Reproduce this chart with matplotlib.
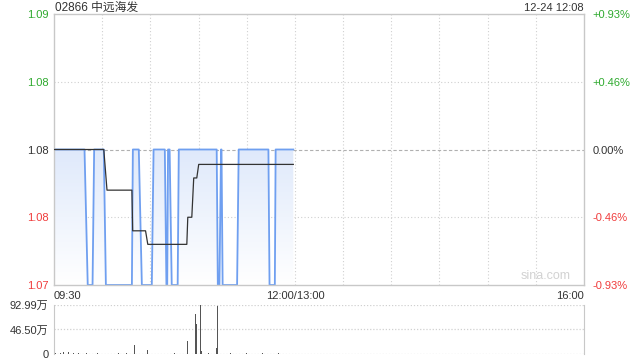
"""Intraday minute chart for 02866 (price + volume), sina style."""

import matplotlib

matplotlib.use("Agg")
import matplotlib.pyplot as plt  # noqa: E402
import numpy as np  # noqa: E402

plt.rcParams["font.family"] = ["Liberation Sans", "Noto Sans CJK SC", "DejaVu Sans"]

TITLE = "02866 中远海发"
STAMP = "12-24 12:08"
PREV_CLOSE = 1.08

# trading minutes since 09:30 (lunch break skipped: 150 = 12:00/13:00, 330 = 16:00)
price_t = [0, 19, 21, 24, 25, 31, 32.3, 48.5, 49.1, 52.8, 54.7, 60.9, 62, 69, 70, 70.5,
           71, 72, 73.3, 77, 77.7, 101.3, 102, 103, 104, 104.3, 105, 114, 115, 133.5,
           134.2, 137.5, 138, 149]
price_v = [1.08, 1.08, 1.07, 1.07, 1.08, 1.08, 1.07, 1.07, 1.08, 1.08, 1.07, 1.07, 1.08,
           1.08, 1.07, 1.07, 1.08, 1.08, 1.07, 1.07, 1.08, 1.08, 1.07, 1.07, 1.08, 1.08,
           1.07, 1.07, 1.08, 1.08, 1.07, 1.07, 1.08, 1.08]

avg_t = [0, 31, 33, 48.5, 49, 57, 58.4, 82.7, 83.3, 85.8, 87, 88.9, 90.1, 149]
avg_v = [1.08, 1.08, 1.077, 1.077, 1.074, 1.074, 1.073, 1.073, 1.075, 1.075, 1.0779,
         1.0779, 1.0789, 1.0789]

# volume in 万 shares
vol_t = [1, 4, 6, 9, 12, 15, 20, 27, 33, 40, 45, 50, 58, 66, 75, 83, 88, 89, 91, 92,
         96, 101, 102, 110, 120, 130, 140]
vol_v = [1.5, 1.0, 3.5, 3.0, 1.0, 1.2, 1.0, 1.0, 2.5, 1.0, 1.2, 17.0, 7.6, 1.0, 1.2,
         24.7, 76.0, 57.0, 92.99, 5.0, 1.0, 11.0, 92.0, 1.0, 1.0, 1.0, 1.0]

y_ticks = [1.07, 1.075, 1.08, 1.085, 1.09]
y_labels = ["1.07", "1.08", "1.08", "1.08", "1.09"]
pct_labels = ["-0.93%", "-0.46%", "0.00%", "+0.46%", "+0.93%"]
tick_colors = ["#f03c3c", "#f03c3c", "#333333", "#2eaa2e", "#2eaa2e"]

vol_ticks = [0, 46.50, 92.99]
vol_labels = ["0", "46.50万", "92.99万"]

GRID = "#d0d0d0"
BORDER = "#c8c8c8"


def main() -> None:
    fig = plt.figure(figsize=(6.4, 3.6), dpi=100)
    ax = fig.add_axes([54 / 640, 75 / 360, 530 / 640, 271 / 360])
    axv = fig.add_axes([54 / 640, 6 / 360, 530 / 640, 49 / 360])

    # price panel
    ax.set_xlim(0, 330)
    ax.set_ylim(1.07, 1.09)
    for s in ax.spines.values():
        s.set_color(BORDER)
        s.set_linewidth(1)
    for m in range(30, 330, 30):
        ax.axvline(m, color=GRID, lw=0.8, ls=(0, (1, 2)), zorder=0)
    for y in (1.075, 1.085):
        ax.axhline(y, color=GRID, lw=0.8, ls=(0, (1, 2)), zorder=0)
    ax.axhline(PREV_CLOSE, color="#b0b0b0", lw=0.8, ls=(0, (3, 2)), zorder=0)

    # gradient fill under price line
    poly = ax.fill_between(price_t, price_v, 1.07, color="none", lw=0)
    grad = np.linspace(0, 1, 256).reshape(-1, 1)
    img = ax.imshow(grad, extent=[0, 149, 1.07, 1.08], origin="lower",
                    cmap=matplotlib.colors.LinearSegmentedColormap.from_list(
                        "g", ["#ffffff", "#dfe9fb"]),
                    aspect="auto", zorder=1)
    img.set_clip_path(poly.get_paths()[0], transform=ax.transData)
    ax.set_xlim(0, 330)
    ax.set_ylim(1.07, 1.09)

    ax.plot(price_t, price_v, color="#6f9ff0", lw=1.3, zorder=2)
    ax.plot(avg_t, avg_v, color="#333333", lw=0.9, zorder=3)

    ax.set_yticks(y_ticks)
    ax.set_yticklabels(y_labels, fontsize=8)
    for lbl, c in zip(ax.get_yticklabels(), tick_colors):
        lbl.set_color(c)
    ax.tick_params(axis="y", length=0, pad=4)

    ax.set_xticks([0, 150, 330])
    ax.set_xticklabels(["09:30", "12:00/13:00", "16:00"], fontsize=8, color="#333333")
    xl = ax.get_xticklabels()
    xl[0].set_ha("left")
    xl[2].set_ha("right")
    ax.tick_params(axis="x", length=0, pad=4)

    ax2 = ax.twinx()
    ax2.set_ylim(1.07, 1.09)
    ax2.set_yticks(y_ticks)
    ax2.set_yticklabels(pct_labels, fontsize=8)
    for lbl, c in zip(ax2.get_yticklabels(), tick_colors):
        lbl.set_color(c)
    ax2.tick_params(axis="y", length=0, pad=6)
    for s in ax2.spines.values():
        s.set_visible(False)

    ax.text(0.975, 0.01, "sina.com", transform=ax.transAxes, ha="right", va="bottom",
            fontsize=9, color="#d2d2d2")

    # volume panel
    axv.set_xlim(0, 330)
    axv.set_ylim(0, 92.99)
    axv.bar(vol_t, vol_v, width=0.6, color="#555555", zorder=2)
    axv.spines["top"].set_visible(False)
    axv.spines["bottom"].set_visible(False)
    axv.spines["left"].set_color(BORDER)
    axv.spines["right"].set_color(BORDER)
    for y in vol_ticks:
        axv.axhline(y, color=GRID, lw=0.9, ls=(0, (1, 1.5)), zorder=0)
    axv.set_xticks([])
    axv.set_yticks(vol_ticks)
    axv.set_yticklabels(vol_labels, fontsize=8, color="#333333")
    axv.tick_params(axis="y", length=0, pad=4)

    fig.text(55 / 640, 1 - 8 / 360, TITLE, fontsize=8.5, color="#333333",
             ha="left", va="center")
    fig.text(584 / 640, 1 - 8 / 360, STAMP, fontsize=8, color="#333333",
             ha="right", va="center")

    fig.savefig("out.png", dpi=100)


if __name__ == "__main__":
    main()
